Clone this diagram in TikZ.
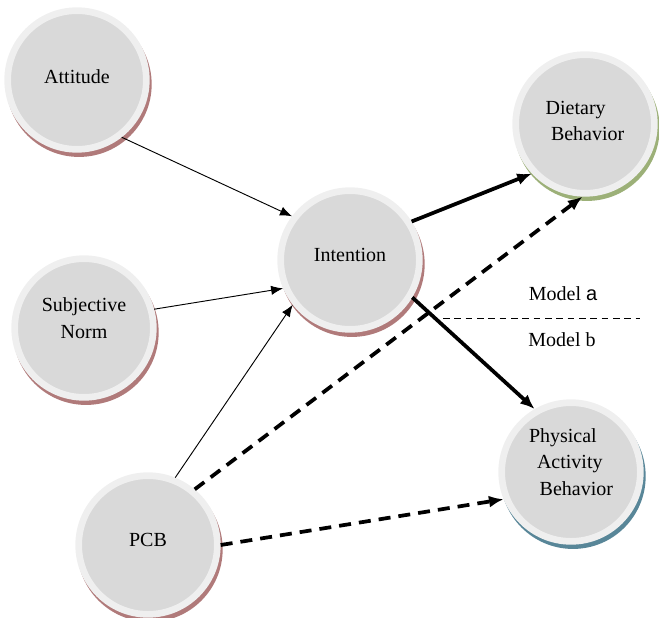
\documentclass[tikz,border=0pt]{standalone}
\usepackage{fontspec}
\setmainfont{Liberation Serif}
\newfontfamily\arialfont{Liberation Sans}
\usetikzlibrary{arrows.meta, positioning}
\definecolor{ringgray}{RGB}{239,239,239}
\definecolor{coregray}{RGB}{217,217,217}
\definecolor{rimred}{RGB}{176,122,122}
\definecolor{rimgreen}{RGB}{156,176,120}
\definecolor{rimblue}{RGB}{88,134,152}
\tikzset{%
>={Latex[width=7pt,length=9pt]},
  % Specifications for style of nodes:
            construct/.style = {circle, draw=ringgray, line width=5pt,
                            fill=coregray, minimum size=104pt, inner sep=0pt,
                            align=center, font=\fontsize{15}{20}\selectfont,
                            preaction={draw=#1, fill=#1,
                            transform canvas={shift={(1.5pt,-3.2pt)}}}},
            construct/.default = rimred,
                            label/.style = {font=\fontsize{15}{18}\selectfont, inner sep=1pt},
            path/.style = {line width=0.7pt, ->},
            effect/.style = {line width=2.8pt, -{Latex[width=9pt,length=11pt]}},
            pcbeffect/.style = {effect, dash pattern=on 9pt off 6pt}
}
\begin{document}
\begin{tikzpicture}[x=0.75pt, y=-0.75pt]
                        \useasboundingbox (0,0) rectangle (659,617);
                        \node[construct, text depth=4.5pt] (att) at (77,80) {Attitude};
                        \node[construct, text depth=15pt] (sn) at (84,328) {Subjective\\Norm};
                        \node[construct, text depth=7.5pt] (int) at (350,260) {Intention};
                        \node[construct, text depth=7.5pt] (pcb) at (148,545) {PCB};
                        \node[construct=rimgreen, align=left, text depth=4.5pt] (diet) at (585,124) {Dietary\\\hspace{4pt}Behavior};
                        \node[construct=rimblue, align=left, text depth=15pt] (phys) at (571,472) {Physical\\\hspace{6pt}Activity\\\hspace{8pt}Behavior};
                        \draw[path] (att.-52)--(int.143);
                        \draw[path] (sn.15)--(int.203);
                        \draw[path] (pcb.68)--(int.218);
                        \draw[effect] (int.32)--(diet.223);
                        \draw[effect] (int.-31)--(phys.120);
                        \draw[pcbeffect] (pcb.50)--(diet.268);
                        \draw[pcbeffect] (pcb.0)--(phys.202);
                        \coordinate (ml) at (443,318);
                        \coordinate (mr) at (640,318);
                        \draw[line width=0.7pt, dash pattern=on 5pt off 3.5pt] (ml)--(mr);
                        \node[label] (ma) at (563,294) {Model {\arialfont a}};
                        \node[label] (mb) at (562,340) {Model b};
                    \end{tikzpicture}
\end{document}
